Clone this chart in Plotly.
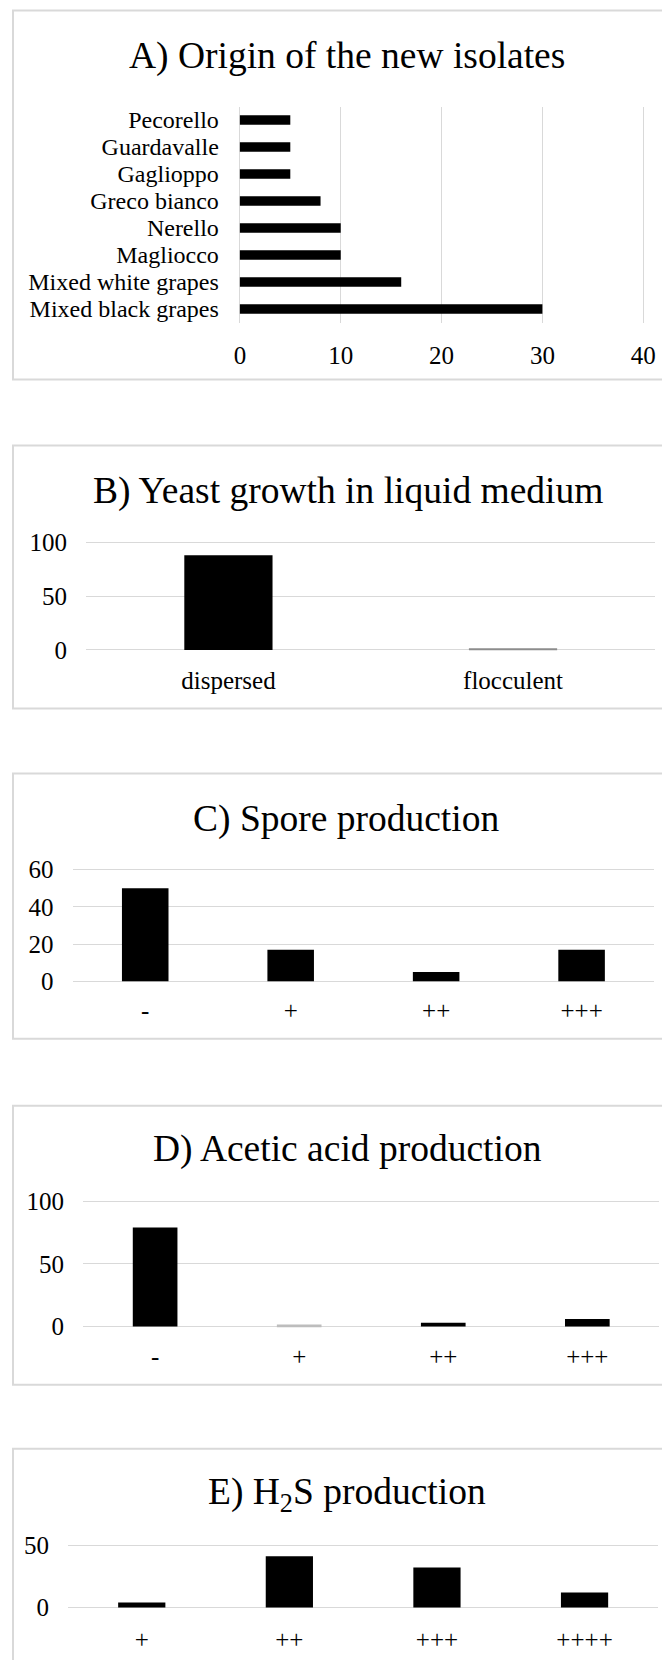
import plotly.graph_objects as go

W, H = 670, 1660
# empirical placement of the figure inside the photographed page
SX, OX = 0.971, 15.0
SY, OY = 0.986, 18.5

# ---------------- data ----------------
origin_labels = ["Mixed black grapes", "Mixed white grapes", "Magliocco", "Nerello",
                 "Greco bianco", "Gaglioppo", "Guardavalle", "Pecorello"]
origin_values = [30, 16, 10, 10, 8, 5, 5, 5]

growth_labels = ["dispersed", "flocculent"]
growth_values = [88, 0.6]

spore_labels = ["-", "+", "++", "+++"]
spore_values = [50, 17, 5, 17]

acetic_labels = ["-", "+", "++", "+++"]
acetic_values = [79, 1.5, 3, 6]

h2s_labels = ["+", "++", "+++", "++++"]
h2s_values = [4, 41, 32, 12]

FONT = "Liberation Serif, Times New Roman, serif"
GRID = "#d9d9d9"
TICK_SIZE = 25
CAT_SIZE = 24
TITLE_SIZE = 37.5
PAD = 2


def px_x(x):
    return (x - OX) / SX / W


def px_y(y):
    return 1 - (y - OY) / SY / H


fig = go.Figure()

fig.add_trace(go.Bar(x=origin_values, y=origin_labels, orientation="h",
                     marker=dict(color="black", line=dict(width=0)), width=0.35,
                     xaxis="x", yaxis="y", showlegend=False))
fig.add_trace(go.Bar(x=growth_labels, y=growth_values,
                     marker=dict(color=["black", "#8c8c8c"], line=dict(width=0)), width=0.31,
                     xaxis="x2", yaxis="y2", showlegend=False))
fig.add_trace(go.Bar(x=spore_labels, y=spore_values,
                     marker=dict(color="black", line=dict(width=0)), width=0.32,
                     xaxis="x3", yaxis="y3", showlegend=False))
fig.add_trace(go.Bar(x=acetic_labels, y=acetic_values,
                     marker=dict(color=["black", "#bdbdbd", "black", "black"], line=dict(width=0)),
                     width=0.31, xaxis="x4", yaxis="y4", showlegend=False))
fig.add_trace(go.Bar(x=h2s_labels, y=h2s_values,
                     marker=dict(color="black", line=dict(width=0)), width=0.32,
                     xaxis="x5", yaxis="y5", showlegend=False))

tickfont = dict(family=FONT, size=TICK_SIZE, color="black")


def cat_xaxis(x0, x1, anchor, standoff):
    return dict(domain=[px_x(x0), px_x(x1)], anchor=anchor, type="category",
                showgrid=False, zeroline=False, showline=False, ticks="",
                tickfont=tickfont, ticklabelstandoff=standoff, fixedrange=True)


def val_yaxis(y_top, y_bot, anchor, vmax, dtick, standoff):
    u = vmax / (y_bot - y_top)
    return dict(domain=[px_y(y_bot + PAD), px_y(y_top - PAD)], anchor=anchor,
                range=[-PAD * u, vmax + PAD * u], dtick=dtick,
                showgrid=True, gridcolor=GRID, gridwidth=1.4, zeroline=False,
                showline=False, ticks="", tickfont=tickfont,
                ticklabelstandoff=standoff, fixedrange=True)


ua = 40 / (641 - 241)
layout = dict(
    width=W, height=H, margin=dict(l=0, r=0, t=0, b=0),
    paper_bgcolor="white", plot_bgcolor="white",
    font=dict(family=FONT, color="black"),
    xaxis=dict(domain=[px_x(241 - PAD), min(1, px_x(641 + PAD))], anchor="y",
               range=[-PAD * ua, 40 + PAD * ua], dtick=10,
               showgrid=True, gridcolor=GRID, gridwidth=1.4, zeroline=False, showline=False,
               ticks="", tickfont=tickfont, ticklabelstandoff=15, fixedrange=True),
    yaxis=dict(domain=[px_y(322), px_y(106)], anchor="x", type="category",
               categoryorder="array", categoryarray=origin_labels,
               tickmode="linear", tick0=0, dtick=1,
               showgrid=False, zeroline=False, showline=False, ticks="",
               tickfont=dict(family=FONT, size=CAT_SIZE, color="black"),
               ticklabelstandoff=18, fixedrange=True),
    xaxis2=cat_xaxis(88.5, 653, "y2", 11),
    yaxis2=val_yaxis(541.7, 649.3, "x2", 100, 50, 18),
    xaxis3=cat_xaxis(75, 652, "y3", 10),
    yaxis3=val_yaxis(869, 980.7, "x3", 60, 20, 18),
    xaxis4=cat_xaxis(85.5, 657, "y4", 11),
    yaxis4=val_yaxis(1200.7, 1325.7, "x4", 100, 50, 18),
    xaxis5=cat_xaxis(70.5, 656, "y5", 13),
    yaxis5=val_yaxis(1544.3, 1606.7, "x5", 50, 50, 18),
)

boxes = [(16, 10, 379), (16, 445, 708), (16, 773, 1038), (16, 1105, 1384), (16, 1448, 1720)]
shapes = []
for x0, y0, y1 in boxes:
    shapes.append(dict(type="rect", xref="paper", yref="paper",
                       x0=px_x(x0), x1=px_x(760), y0=px_y(y1), y1=px_y(y0),
                       line=dict(color=GRID, width=2), fillcolor="rgba(0,0,0,0)", layer="below"))
layout["shapes"] = shapes

titles = [("A) Origin of the new isolates", 347, 55.5),
          ("B) Yeast growth in liquid medium", 348, 490),
          ("C) Spore production", 346, 818),
          ("D) Acetic acid production", 348, 1148.5),
          ("E) H<sub>2</sub>S production", 347, 1493.5)]
layout["annotations"] = [dict(text=t, x=px_x(x), y=px_y(y), xref="paper", yref="paper",
                              xanchor="center", yanchor="middle", showarrow=False,
                              font=dict(family=FONT, size=TITLE_SIZE, color="black"))
                         for t, x, y in titles]

fig.update_layout(**layout)
fig.write_html("out.html")
